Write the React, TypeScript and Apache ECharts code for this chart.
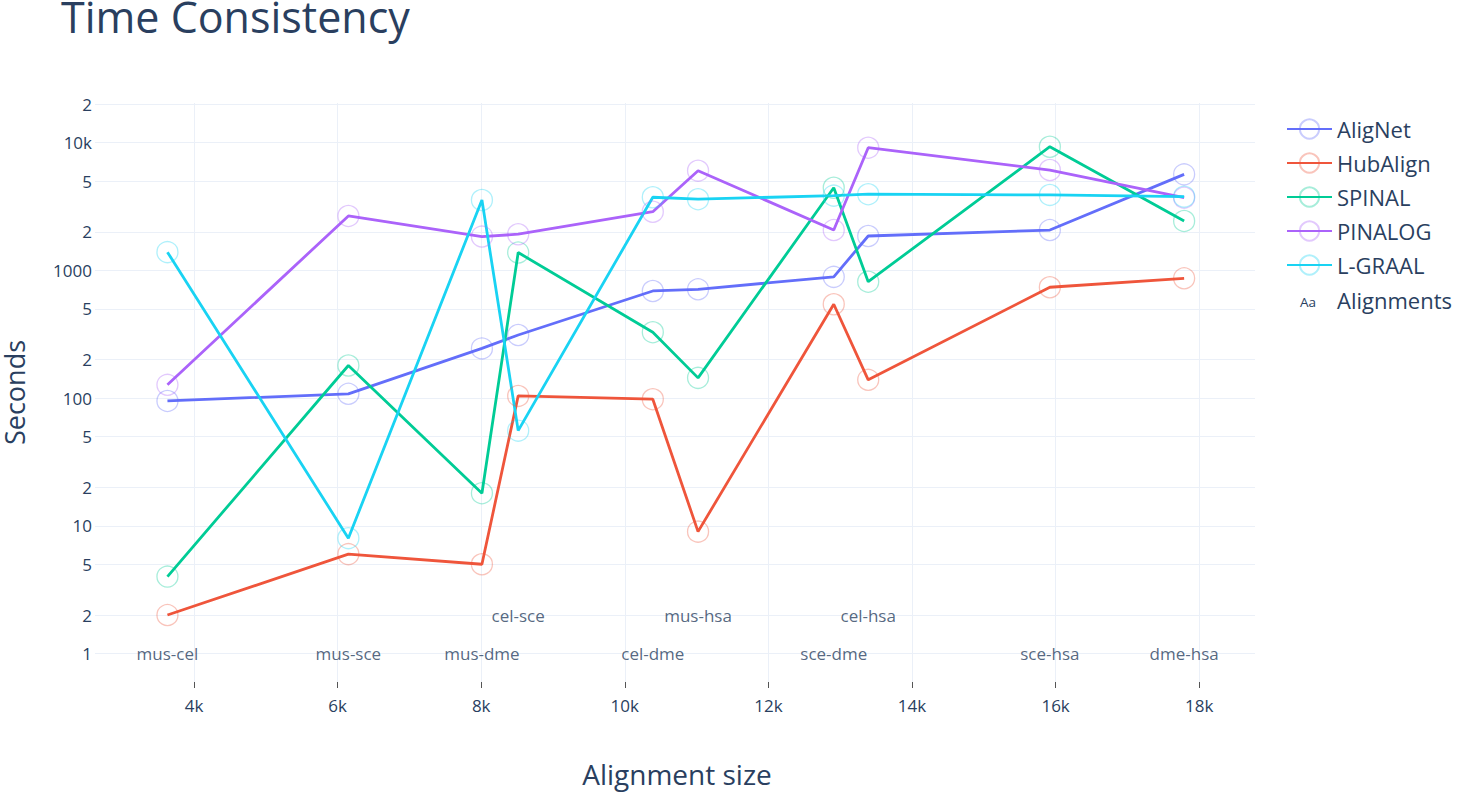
import React, { useEffect, useRef } from 'react';
import * as echarts from 'echarts';

const pairs = ['mus-cel', 'mus-sce', 'mus-dme', 'cel-sce', 'cel-dme', 'mus-hsa', 'sce-dme', 'cel-hsa', 'sce-hsa', 'dme-hsa'];
const sizes = [3630, 6150, 8010, 8515, 10390, 11020, 12910, 13390, 15920, 17790];
const labelLevels = [1, 1, 1, 2, 1, 2, 1, 2, 1, 1];

const aligNet = [95, 108, 245, 312, 690, 711, 890, 1860, 2070, 5650];
const hubAlign = [2, 6, 5, 104, 98, 9, 543, 139, 738, 867];
const spinal = [4, 180, 18, 1380, 328, 144, 4440, 816, 9300, 2440];
const pinalog = [127, 2670, 1840, 1920, 2880, 6040, 2070, 9140, 6110, 3710];
const lGraal = [1390, 8, 3560, 55.6, 3740, 3610, 3850, 3950, 3900, 3780];

const xTicks = [4000, 6000, 8000, 10000, 12000, 14000, 16000, 18000];
const yTickValues = [1, 2, 5, 10, 20, 50, 100, 200, 500, 1000, 2000, 5000, 10000, 20000];
const yTickLabels = ['1', '2', '5', '10', '2', '5', '100', '2', '5', '1000', '2', '5', '10k', '2'];

const seriesDefs = [
  { name: 'AligNet', color: '#636efa', rgb: '99,110,250', values: aligNet },
  { name: 'HubAlign', color: '#ef553b', rgb: '239,85,59', values: hubAlign },
  { name: 'SPINAL', color: '#00cc96', rgb: '0,204,150', values: spinal },
  { name: 'PINALOG', color: '#ab63fa', rgb: '171,99,250', values: pinalog },
  { name: 'L-GRAAL', color: '#19d3f3', rgb: '25,211,243', values: lGraal },
];

const FONT = '"Open Sans", "Noto Sans", sans-serif';
const TXT = '#2a3f5f';
const GRID = '#ebf0f8';

const X_MIN = 2621;
const X_MAX = 18777;
const Y_MIN = 0.598;
const Y_MAX = 20460;

export default function App() {
  const ref = useRef<HTMLDivElement>(null);
  useEffect(() => {
    const chart = echarts.init(ref.current as HTMLDivElement, null, { renderer: 'svg' });
    const logTicks = yTickValues.map((v) => Math.log10(v));
    const option: any = {
      animation: false,
      backgroundColor: '#ffffff',
      title: {
        text: 'Time Consistency',
        left: 56,
        top: -10,
        textStyle: { fontSize: 43, fontWeight: 'normal', fontFamily: FONT, color: TXT },
      },
      grid: { left: 95, right: 203, top: 103, bottom: 110, containLabel: false },
      legend: {
        orient: 'vertical',
        left: 1286,
        top: 118,
        itemWidth: 45,
        itemHeight: 24,
        itemGap: 12,
        padding: 0,
        textStyle: { fontSize: 22, color: TXT, fontFamily: FONT },
        data: [
          ...seriesDefs.map((s) => s.name),
          { name: 'Alignments', icon: 'none' },
        ],
      },
      xAxis: {
        type: 'value',
        min: X_MIN,
        max: X_MAX,
        axisLine: { show: false, onZero: false },
        axisTick: { show: true, length: 6, customValues: xTicks, lineStyle: { color: '#555', width: 1 } },
        axisLabel: {
          customValues: xTicks,
          margin: 15,
          fontSize: 17,
          color: TXT,
          fontFamily: FONT,
          formatter: (v: number) => `${Math.round(v / 1000)}k`,
        },
        splitLine: { show: true, lineStyle: { color: GRID, width: 1 } },
      },
      yAxis: [
        {
          type: 'log',
          logBase: 10,
          min: Y_MIN,
          max: Y_MAX,
          axisLine: { show: false, onZero: false },
          axisTick: { show: false },
          axisLabel: { show: false },
          splitLine: { show: false },
          minorSplitLine: { show: false },
        },
        {
          type: 'value',
          position: 'left',
          min: Math.log10(Y_MIN),
          max: Math.log10(Y_MAX),
          axisLine: { show: false, onZero: false },
          axisTick: { show: false, customValues: logTicks },
          axisLabel: {
            customValues: logTicks,
            margin: 3,
            fontSize: 17,
            color: TXT,
            fontFamily: FONT,
            formatter: (v: number) => {
              let best = 0;
              let bd = Infinity;
              logTicks.forEach((t, i) => {
                const d = Math.abs(t - v);
                if (d < bd) {
                  bd = d;
                  best = i;
                }
              });
              return yTickLabels[best];
            },
          },
          splitLine: { show: true, lineStyle: { color: GRID, width: 1 } },
        },
      ],
      series: [
        ...seriesDefs.map((s) => ({
          name: s.name,
          type: 'line',
          yAxisIndex: 0,
          symbol: 'circle',
          symbolSize: 21,
          showSymbol: true,
          lineStyle: { color: s.color, width: 2.8 },
          itemStyle: { color: 'rgba(255,255,255,0)', borderColor: `rgba(${s.rgb},0.35)`, borderWidth: 1.3 },
          emphasis: { disabled: true },
          data: s.values.map((v, i) => [sizes[i], v]),
          z: 2,
        })),
        {
          name: 'Alignments',
          type: 'scatter',
          yAxisIndex: 0,
          symbol: 'circle',
          symbolSize: 1,
          itemStyle: { color: 'rgba(0,0,0,0)' },
          label: {
            show: true,
            position: 'inside',
            formatter: '{b}',
            fontSize: 17,
            color: TXT,
            fontFamily: FONT,
          },
          emphasis: { disabled: true },
          data: pairs.map((p, i) => ({ name: p, value: [sizes[i], labelLevels[i]] })),
          z: 3,
        },
      ],
      graphic: [
        {
          type: 'text',
          x: 14,
          y: 392.5,
          rotation: Math.PI / 2,
          style: {
            text: 'Seconds',
            fontSize: 27,
            fontFamily: FONT,
            fill: TXT,
            textAlign: 'center',
            textVerticalAlign: 'middle',
          },
        },
        {
          type: 'text',
          x: 677,
          y: 773.5,
          style: {
            text: 'Alignment size',
            fontSize: 28,
            fontFamily: FONT,
            fill: TXT,
            textAlign: 'center',
            textVerticalAlign: 'middle',
          },
        },
        {
          type: 'text',
          x: 1308,
          y: 302,
          style: {
            text: 'Aa',
            fontSize: 13.5,
            fontFamily: FONT,
            fill: TXT,
            textAlign: 'center',
            textVerticalAlign: 'middle',
          },
        },
      ],
    };
    chart.setOption(option);
    return () => chart.dispose();
  }, []);
  return <div ref={ref} style={{ position: 'absolute', left: 0, top: 0, width: 1458, height: 792 }} />;
}
